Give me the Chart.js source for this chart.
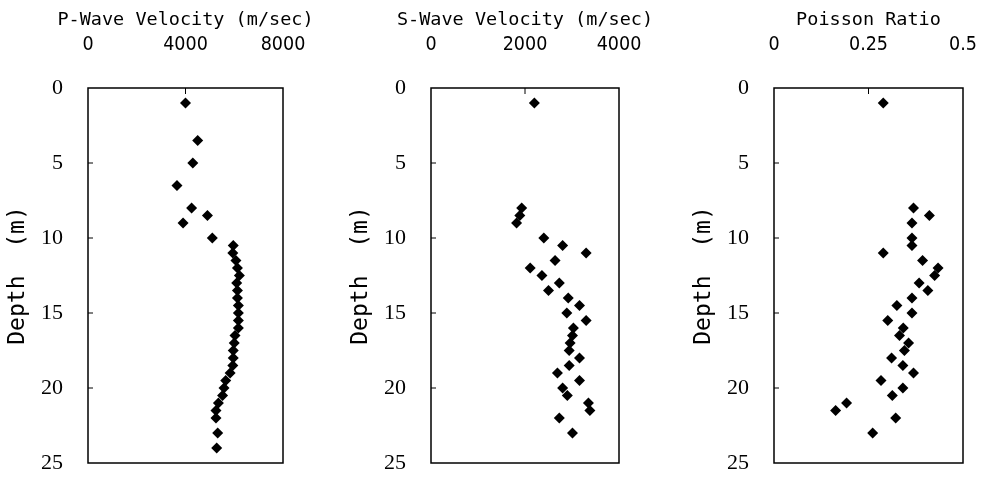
<!DOCTYPE html>
<html>
<head>
<meta charset="utf-8">
<script src="https://cdn.jsdelivr.net/npm/chart.js@4.4.1/dist/chart.umd.min.js"></script>
<style>
  html, body { margin: 0; padding: 0; background: #fff; }
  #wrap { position: relative; width: 988px; height: 478px; overflow: hidden; }
  canvas { position: absolute; top: 0; }
</style>
</head>
<body>
<div id="wrap">
  <canvas id="pwave" width="371" height="478" style="left:0px"></canvas>
  <canvas id="swave" width="364" height="478" style="left:343px"></canvas>
  <canvas id="poisson" width="365" height="478" style="left:686px"></canvas>
</div>
<script>
// P-wave velocity (m/sec) vs depth (m)
const depthP = [1, 3.5, 5, 6.5, 8, 8.5, 9, 10, 10.5, 11, 11.5, 12, 12.5, 13, 13.5, 14, 14.5,
  15, 15.5, 16, 16.5, 17, 17.5, 18, 18.5, 19, 19.5, 20, 20.5, 21, 21.5, 22, 23, 24];
const velP = [4000, 4500, 4300, 3650, 4250, 4900, 3900, 5100, 5960, 5940, 6070, 6130, 6210, 6100, 6130, 6130, 6170,
  6170, 6170, 6170, 6030, 6000, 5960, 5960, 5940, 5830, 5650, 5580, 5520, 5350, 5250, 5250, 5320, 5280];

// S-wave velocity (m/sec) vs depth (m)
const depthS = [1, 8, 8.5, 9, 10, 10.5, 11, 11.5, 12, 12.5, 13, 13.5, 14, 14.5, 15, 15.5,
  16, 16.5, 17, 17.5, 18, 18.5, 19, 19.5, 20, 20.5, 21, 21.5, 22, 23];
const velS = [2200, 1930, 1890, 1820, 2400, 2800, 3300, 2640, 2110, 2360, 2730, 2500, 2920, 3160, 2890, 3300,
  3030, 3010, 2960, 2940, 3160, 2940, 2690, 3160, 2800, 2900, 3350, 3380, 2730, 3010];

// Poisson ratio vs depth (m)
const depthR = [1, 8, 8.5, 9, 10, 10.5, 11, 11.5, 12, 12.5, 13, 13.5, 14, 14.5, 15, 15.5,
  16, 16.5, 17, 17.5, 18, 18.5, 19, 19.5, 20, 20.5, 21, 21.5, 22, 23];
const ratio = [0.289, 0.369, 0.411, 0.365, 0.365, 0.365, 0.289, 0.393, 0.434, 0.425, 0.384, 0.407, 0.365, 0.325, 0.365, 0.301,
  0.342, 0.332, 0.356, 0.345, 0.311, 0.341, 0.369, 0.283, 0.341, 0.313, 0.192, 0.163, 0.322, 0.261];

const depthRange = { min: 0, max: 25, step: 5 };

// box round the plot + short inward tick marks
const framePlugin = {
  id: 'frame',
  afterDraw(chart) {
    const { ctx, chartArea: a, scales } = chart;
    ctx.save();
    ctx.strokeStyle = '#000';
    ctx.lineWidth = 1.5;
    ctx.strokeRect(a.left, a.top, a.right - a.left, a.bottom - a.top);
    ctx.lineWidth = 1;
    ctx.beginPath();
    scales.y.ticks.forEach((t) => {
      const y = scales.y.getPixelForValue(t.value);
      if (y > a.top + 1 && y < a.bottom - 1) {
        ctx.moveTo(a.left, y);
        ctx.lineTo(a.left + 5, y);
      }
    });
    scales.x.ticks.forEach((t) => {
      const x = scales.x.getPixelForValue(t.value);
      if (x > a.left + 1 && x < a.right - 1) {
        ctx.moveTo(x, a.top);
        ctx.lineTo(x, a.top + 6);
      }
    });
    ctx.stroke();
    ctx.restore();
  },
};

function makePanel(id, title, xs, ys, xMax, xStep) {
  const ctx = document.getElementById(id).getContext('2d');
  return new Chart(ctx, {
    type: 'scatter',
    data: {
      datasets: [
        {
          data: xs.map((v, i) => ({ x: v, y: ys[i] })),
          pointStyle: 'rectRot',
          pointRadius: 5.5,
          backgroundColor: '#000',
          borderColor: '#000',
          borderWidth: 0,
        },
      ],
    },
    options: {
      responsive: false,
      animation: false,
      layout: { padding: { left: 0, top: 0, right: 0, bottom: 15 } },
      plugins: {
        legend: { display: false },
        tooltip: { enabled: false },
        title: {
          display: true,
          text: title,
          color: '#000',
          fullSize: true,
          padding: { top: 9, bottom: 2 },
          font: { family: 'DejaVu Sans Mono', size: 18.5, weight: 'normal' },
        },
      },
      scales: {
        x: {
          type: 'linear',
          position: 'top',
          min: 0,
          max: xMax,
          afterFit: (s) => { s.height = 88 - 33.2; },
          grid: { display: true, drawOnChartArea: false, drawTicks: true, tickLength: 31, tickColor: 'rgba(0,0,0,0)' },
          border: { display: false },
          ticks: {
            stepSize: xStep,
            padding: 0,
            color: '#000',
            font: { family: "'DejaVu Sans Condensed', 'DejaVu Sans Mono'", size: 19.5 },
            callback: (v) => String(v),
          },
        },
        y: {
          type: 'linear',
          reverse: true,
          min: depthRange.min,
          max: depthRange.max,
          afterFit: (s) => { s.width = 88; },
          grid: { display: true, drawOnChartArea: false, drawTicks: true, tickLength: 25, tickColor: 'rgba(0,0,0,0)' },
          border: { display: false },
          ticks: {
            stepSize: depthRange.step,
            padding: 0,
            color: '#000',
            font: { family: 'Liberation Serif', size: 22 },
          },
          title: {
            display: true,
            text: 'Depth  (m)',
            color: '#000',
            padding: { top: 4, bottom: 0 },
            font: { family: 'DejaVu Sans Mono', size: 23 },
          },
        },
        // empty right-hand axis, mirrors the left one so the title centres on the plot
        y2: {
          type: 'linear',
          position: 'right',
          afterFit: (s) => { s.width = 88; },
          grid: { display: false },
          border: { display: false },
          ticks: { display: false },
        },
      },
    },
    plugins: [framePlugin],
  });
}

makePanel('pwave', 'P-Wave Velocity (m/sec)', velP, depthP, 8000, 4000);
makePanel('swave', 'S-Wave Velocity (m/sec)', velS, depthS, 4000, 2000);
makePanel('poisson', 'Poisson Ratio', ratio, depthR, 0.5, 0.25);
</script>
</body>
</html>
